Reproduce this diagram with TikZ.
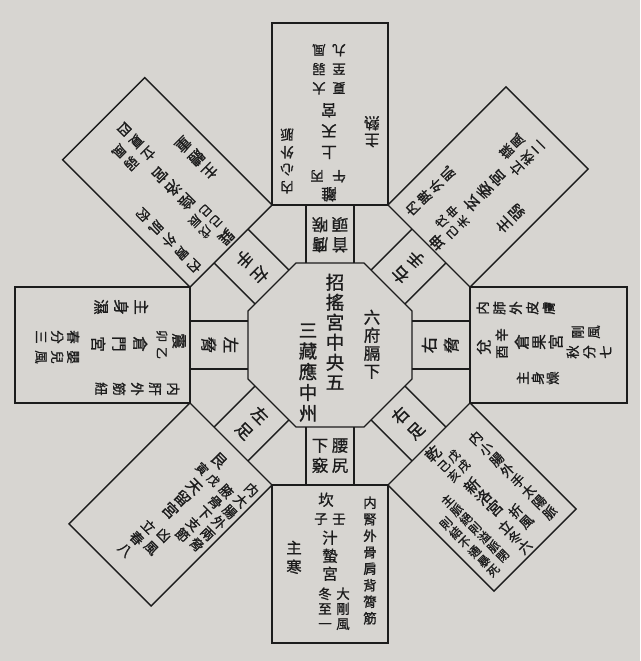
\documentclass[tikz,border=0pt]{standalone}
\usepackage{fontspec}
\setmainfont{Noto Sans CJK TC}[FakeBold=1]
\definecolor{paper}{RGB}{215,213,209}
\definecolor{ink}{RGB}{28,28,28}
\newlength\vgap
\newcommand\vcol[2][3pt]{\vbox{\offinterlineskip\setlength\vgap{#1}\vcolA#2\relax}}
\def\vcolA#1{\ifx\relax#1\else\hbox to 1em{\hss\rule[-.12em]{0pt}{1em}#1\hss}\kern\vgap\expandafter\vcolA\fi}
\tikzset{
  every node/.style={inner sep=0pt, outer sep=0pt, text=ink, anchor=north},
  xs/.style={font=\fontsize{12}{12}\selectfont},
  sm/.style={font=\fontsize{13.5}{13.5}\selectfont},
  md/.style={font=\fontsize{15.5}{15.5}\selectfont},
  lg/.style={font=\fontsize{16.5}{16.5}\selectfont},
  xl/.style={font=\fontsize{18.5}{18.5}\selectfont},
  edge/.style={draw=ink, line width=1.4pt, line join=miter},
  cellat/.style={shift={(330,345)}, rotate=#1, transform shape}
}
\newcommand\cell[1]{\draw[edge] (-58,140) rectangle (58,#1);
  \draw[edge] (-24,82) -- (-24,140) (24,82) -- (24,140);}
\begin{document}
\begin{tikzpicture}[x=1pt,y=-1pt]
\useasboundingbox (0,0) rectangle (640,661);
\fill[paper] (0,0) rectangle (640,661);
% central octagon
\draw[edge] (296,263) -- (364,263) -- (412,311) -- (412,379) -- (364,427) -- (296,427) -- (248,379) -- (248,311) -- cycle;
\node[xl] (c-mid) at (335,273) {\vcol[1.5pt]{招搖宮中央五}};
\node[lg] (c-right) at (372,309) {\vcol[1.5pt]{六府膈下}};
\node[xl] (c-left) at (308,321) {\vcol[2.25pt]{三藏應中州}};
% 坎 (bottom)
\begin{scope}[cellat=0]
\cell{298}
\node[md] (kan-t) at (-4,147) {\vcol{坎}};
\node[sm] (kan-a) at (9,167) {\vcol{壬}};
\node[sm] (kan-b) at (-9,167) {\vcol{子}};
\node[md] (kan-g) at (0,185) {\vcol[2.5pt]{汁蟄宮}};
\node[sm] (kan-w) at (13,242) {\vcol[1.5pt]{大剛風}};
\node[sm] (kan-s) at (-5,242) {\vcol[1.5pt]{冬至一}};
\node[sm] (kan-n) at (40,151) {\vcol[3pt]{内腎外骨肩背膂筋}};
\node[md] (kan-z) at (-36,195) {\vcol[3.5pt]{主寒}};
\node[lg] (kan-c1) at (10,92) {\vcol[3.5pt]{腰尻}};
\node[lg] (kan-c2) at (-10,92) {\vcol[3.5pt]{下竅}};
\end{scope}
% 離 (top)
\begin{scope}[cellat=180]
\cell{322}
\node[md] (li-t) at (1,143) {\vcol{離}};
\node[sm] (li-a) at (13,162) {\vcol{丙}};
\node[sm] (li-b) at (-9,162) {\vcol{午}};
\node[md] (li-g) at (1,185) {\vcol[5.5pt]{上天宮}};
\node[sm] (li-w) at (11,250) {\vcol[5.5pt]{大弱風}};
\node[sm] (li-s) at (-9,250) {\vcol[5.5pt]{夏至九}};
\node[sm] (li-n) at (43,151) {\vcol[4pt]{内心外脈}};
\node[md] (li-z) at (-42,197) {\vcol[1.5pt]{主熱}};
\node[lg] (li-c1) at (10,92) {\vcol[3.5pt]{膺喉}};
\node[lg] (li-c2) at (-10,92) {\vcol[3.5pt]{首頭}};
\end{scope}
% 兌 (right)
\begin{scope}[cellat=90]
\cell{297}
\node[md] (dui-t) at (-2,146) {\vcol{兌}};
\node[sm] (dui-a) at (10,165) {\vcol{辛}};
\node[sm] (dui-b) at (-7,165) {\vcol{酉}};
\node[md] (dui-g) at (3,184) {\vcol[1.5pt]{倉果宮}};
\node[sm] (dui-w) at (13,241) {\vcol[2.5pt]{剛風}};
\node[sm] (dui-s) at (-7,236) {\vcol[3pt]{秋分七}};
\node[sm] (dui-n) at (37,146) {\vcol[3pt]{内肺外皮膚}};
\node[sm] (dui-z) at (-33,186) {\vcol[1.5pt]{主身燥}};
\node[lg] (dui-c) at (0,91) {\vcol[5.5pt]{右脅}};
\end{scope}
% 乾 (bottom right)
\begin{scope}[cellat=45]
\cell{290}
\node[md] (qian-t) at (-4,142) {\vcol{乾}};
\node[xs] (qian-a) at (9,160) {\vcol[2pt]{戊戌}};
\node[xs] (qian-b) at (-5,160) {\vcol[2pt]{己亥}};
\node[md] (qian-g) at (1,192) {\vcol[0.5pt]{新洛宮}};
\node[sm] (qian-w) at (14,242) {\vcol[1.5pt]{折風}};
\node[sm] (qian-s) at (-5,246) {\vcol[0.5pt]{立冬六}};
\node[sm] (qian-n) at (37,162) {\vcol[1.5pt]{内小腸外手太陽脈}};
\node[xs] (qian-z1) at (-27,187) {\vcol[1pt]{主脈絕則溢脈閉}};
\node[xs] (qian-z2) at (-44,202) {\vcol[1.4pt]{則結不通暴死}};
\node[lg] (qian-c) at (0,91) {\vcol[5.5pt]{右足}};
\end{scope}
% 坤 (top right)
\begin{scope}[cellat=135]
\cell{307}
\node[md] (kun-t) at (-3,141) {\vcol{坤}};
\node[xs] (kun-a) at (8,160) {\vcol[3pt]{戊申}};
\node[xs] (kun-b) at (-7,160) {\vcol[3pt]{己未}};
\node[md] (kun-g) at (0,193) {\vcol[2.5pt]{玄委宮}};
\node[sm] (kun-w) at (12,255) {\vcol[1.5pt]{謀風}};
\node[sm] (kun-s) at (-7,250) {\vcol[1.5pt]{立秋二}};
\node[sm] (kun-n) at (38,148) {\vcol[3pt]{内脾外肌}};
\node[md] (kun-z) at (-38,200) {\vcol[2.5pt]{主弱}};
\node[lg] (kun-c) at (0,91) {\vcol[5.5pt]{右手}};
\end{scope}
% 巽 (top left)
\begin{scope}[cellat=-135]
\cell{320}
\node[md] (xun-t) at (-3,142) {\vcol{巽}};
\node[xs] (xun-a) at (8,162) {\vcol[3pt]{戊辰}};
\node[xs] (xun-b) at (-7,162) {\vcol[3pt]{己巳}};
\node[md] (xun-g) at (0,195) {\vcol[3.5pt]{陰洛宮}};
\node[sm] (xun-w) at (12,262) {\vcol[3.5pt]{弱風}};
\node[sm] (xun-s) at (-7,257) {\vcol[3.5pt]{立夏四}};
\node[sm] (xun-n) at (40,145) {\vcol[4.5pt]{内胃外肌肉}};
\node[md] (xun-z) at (-38,200) {\vcol[3.5pt]{主體重}};
\node[lg] (xun-c) at (0,91) {\vcol[5.5pt]{左手}};
\end{scope}
% 艮 (bottom left)
\begin{scope}[cellat=-45]
\cell{311}
\node[md] (gen-t) at (3,152) {\vcol{艮}};
\node[xs] (gen-a) at (13,172) {\vcol{戊}};
\node[xs] (gen-b) at (-3,172) {\vcol{寅}};
\node[md] (gen-g) at (4,188) {\vcol[1.5pt]{天留宮}};
\node[sm] (gen-w) at (17,245) {\vcol[4.5pt]{凶風}};
\node[sm] (gen-s) at (0,250) {\vcol[3pt]{立春八}};
\node[sm] (gen-n1) at (47,151) {\vcol[2pt]{内大腸外兩脅}};
\node[sm] (gen-n2) at (30,170) {\vcol[2pt]{腋骨下支節}};
\node[lg] (gen-c) at (0,91) {\vcol[5.5pt]{左足}};
\end{scope}
% 震 (left)
\begin{scope}[cellat=-90]
\cell{315}
\node[md] (zhen-t) at (-4,143) {\vcol{震}};
\node[xs] (zhen-a) at (8,162) {\vcol{乙}};
\node[xs] (zhen-b) at (-9,162) {\vcol{卯}};
\node[md] (zhen-g) at (-1,182) {\vcol[5.5pt]{倉門宮}};
\node[sm] (zhen-w) at (12,250) {\vcol[2.5pt]{嬰兒風}};
\node[sm] (zhen-s) at (-8,250) {\vcol[2.5pt]{春分三}};
\node[sm] (zhen-n) at (44,150) {\vcol[4.5pt]{内肝外筋紐}};
\node[md] (zhen-z) at (-38,181) {\vcol[4.5pt]{主身濕}};
\node[lg] (zhen-c) at (0,91) {\vcol[5.5pt]{左脅}};
\end{scope}
\end{tikzpicture}
\end{document}
